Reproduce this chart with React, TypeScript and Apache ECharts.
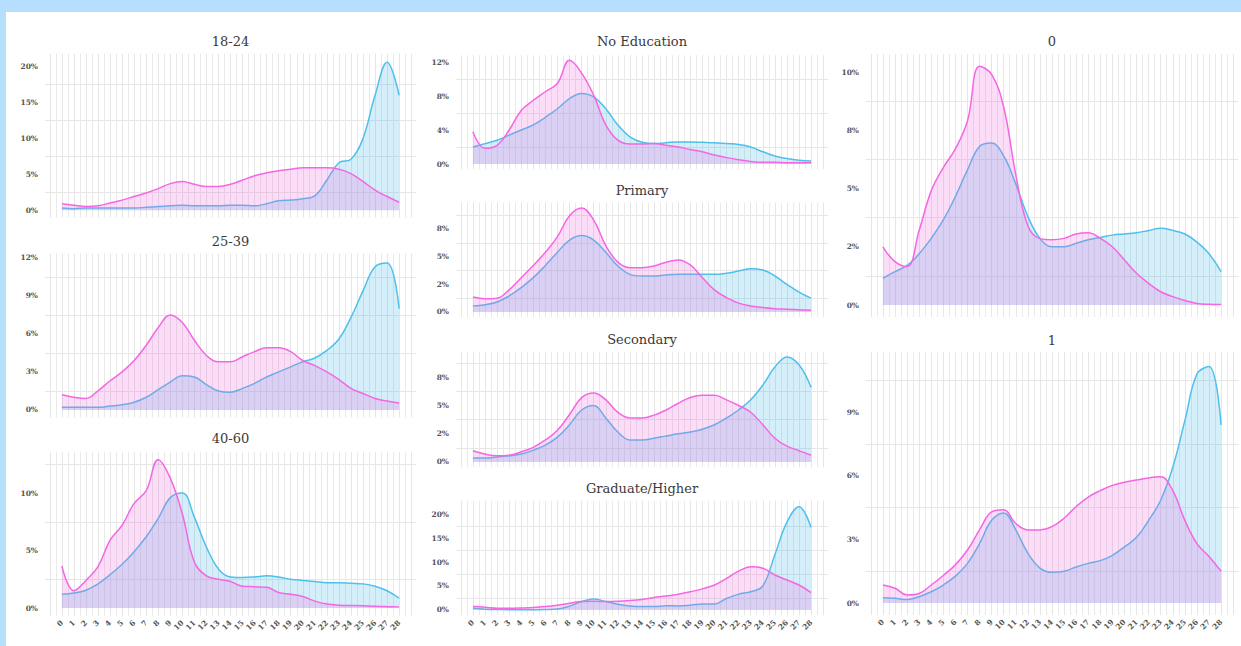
import React, { useEffect, useRef } from 'react';
import * as echarts from 'echarts';

// ---------- data ----------
const xCategories = [0, 1, 2, 3, 4, 5, 6, 7, 8, 9, 10, 11, 12, 13, 14, 15, 16, 17, 18, 19, 20, 21, 22, 23, 24, 25, 26, 27, 28];
const xGridValues = [-1, -0.5, 0, 0.5, 1, 1.5, 2, 2.5, 3, 3.5, 4, 4.5, 5, 5.5, 6, 6.5, 7, 7.5, 8, 8.5, 9, 9.5, 10, 10.5, 11, 11.5, 12, 12.5, 13, 13.5, 14, 14.5, 15, 15.5, 16, 16.5, 17, 17.5, 18, 18.5, 19, 19.5, 20, 20.5, 21, 21.5, 22, 22.5, 23, 23.5, 24, 24.5, 25, 25.5, 26, 26.5, 27, 27.5, 28, 28.5, 29];

const panelTitles = ['18-24', '25-39', '40-60', 'No Education', 'Primary', 'Secondary', 'Graduate/Higher', '0', '1'];

const pink18_24 = [0.9, 0.7, 0.5, 0.6, 1.0, 1.4, 1.9, 2.4, 3.0, 3.7, 4.0, 3.6, 3.3, 3.3, 3.6, 4.2, 4.8, 5.2, 5.5, 5.7, 5.9, 5.9, 5.9, 5.7, 5.1, 4.0, 2.8, 1.9, 1.1];
const blue18_24 = [0.3, 0.2, 0.3, 0.3, 0.3, 0.3, 0.3, 0.4, 0.5, 0.6, 0.7, 0.6, 0.6, 0.6, 0.7, 0.7, 0.6, 0.9, 1.3, 1.4, 1.6, 2.0, 4.2, 6.6, 7.1, 10.0, 16.0, 20.6, 16.0];
const pink25_39 = [1.2, 1.0, 0.9, 1.5, 2.3, 3.0, 3.9, 5.1, 6.5, 7.5, 6.9, 5.5, 4.3, 3.8, 3.8, 4.2, 4.6, 4.9, 4.9, 4.6, 3.9, 3.5, 3.0, 2.4, 1.7, 1.3, 0.9, 0.7, 0.55];
const blue25_39 = [0.2, 0.2, 0.2, 0.2, 0.3, 0.4, 0.6, 1.0, 1.6, 2.2, 2.7, 2.6, 2.0, 1.5, 1.4, 1.7, 2.1, 2.6, 3.0, 3.4, 3.8, 4.1, 4.7, 5.6, 7.3, 9.4, 11.3, 11.6, 8.0];
const pink40_60 = [3.65, 1.5, 2.4, 3.6, 5.9, 7.2, 9.1, 10.2, 12.9, 11.3, 8.2, 4.0, 2.8, 2.5, 2.3, 1.9, 1.85, 1.8, 1.35, 1.2, 1.0, 0.6, 0.35, 0.25, 0.22, 0.2, 0.15, 0.12, 0.1];
const blue40_60 = [1.2, 1.3, 1.55, 2.1, 2.9, 3.8, 4.9, 6.2, 7.8, 9.6, 10.0, 7.9, 5.3, 3.4, 2.7, 2.65, 2.7, 2.8, 2.7, 2.5, 2.4, 2.3, 2.2, 2.2, 2.15, 2.1, 1.9, 1.5, 0.85];
const pinkNoEdu = [3.8, 1.85, 2.2, 4.0, 6.3, 7.5, 8.5, 9.5, 12.2, 10.7, 8.1, 4.6, 2.8, 2.35, 2.35, 2.4, 2.2, 2.0, 1.7, 1.45, 1.05, 0.75, 0.5, 0.3, 0.2, 0.2, 0.15, 0.15, 0.15];
const blueNoEdu = [2.0, 2.4, 2.8, 3.4, 4.0, 4.6, 5.5, 6.5, 7.7, 8.3, 7.9, 6.5, 4.6, 3.2, 2.55, 2.4, 2.5, 2.6, 2.6, 2.55, 2.5, 2.4, 2.3, 2.0, 1.45, 0.95, 0.65, 0.45, 0.35];
const pinkPrimary = [1.35, 1.2, 1.25, 2.0, 3.1, 4.2, 5.4, 6.8, 8.7, 9.4, 8.3, 6.0, 4.5, 4.0, 4.0, 4.15, 4.5, 4.7, 4.25, 3.1, 2.0, 1.3, 0.8, 0.55, 0.4, 0.3, 0.25, 0.2, 0.15];
const bluePrimary = [0.55, 0.65, 0.9, 1.45, 2.2, 3.1, 4.2, 5.4, 6.5, 6.9, 6.5, 5.4, 4.15, 3.4, 3.25, 3.25, 3.35, 3.4, 3.4, 3.4, 3.4, 3.5, 3.7, 3.9, 3.8, 3.25, 2.5, 1.8, 1.25];
const pinkSecondary = [1.0, 0.7, 0.55, 0.6, 0.9, 1.3, 1.95, 2.8, 4.2, 5.7, 6.1, 5.5, 4.4, 3.9, 3.9, 4.15, 4.6, 5.2, 5.7, 5.9, 5.9, 5.5, 5.0, 4.4, 3.3, 2.1, 1.4, 1.0, 0.6];
const blueSecondary = [0.35, 0.35, 0.45, 0.55, 0.7, 1.05, 1.5, 2.2, 3.3, 4.6, 5.0, 3.9, 2.65, 1.95, 1.95, 2.1, 2.3, 2.5, 2.65, 2.9, 3.3, 3.9, 4.6, 5.5, 6.8, 8.4, 9.3, 8.6, 6.6];
const pinkGraduate = [0.7, 0.55, 0.35, 0.35, 0.4, 0.5, 0.7, 1.0, 1.4, 1.75, 1.8, 1.75, 1.8, 1.95, 2.2, 2.6, 2.9, 3.3, 3.8, 4.4, 5.2, 6.6, 8.1, 9.0, 8.7, 7.3, 6.25, 5.2, 3.6];
const blueGraduate = [0.35, 0.15, 0.1, 0.05, 0.05, 0.05, 0.1, 0.2, 0.8, 1.75, 2.3, 1.75, 1.2, 0.85, 0.7, 0.7, 0.9, 0.85, 1.0, 1.25, 1.25, 2.4, 3.3, 3.8, 5.0, 11.5, 18.3, 21.5, 17.2];
const pinkZero = [2.5, 1.86, 1.65, 3.2, 4.9, 5.9, 6.7, 7.9, 10.25, 9.9, 8.5, 5.6, 3.4, 2.85, 2.8, 2.86, 3.05, 3.1, 2.86, 2.5, 1.93, 1.36, 0.93, 0.57, 0.36, 0.19, 0.07, 0.03, 0.02];
const blueZero = [1.15, 1.43, 1.7, 2.2, 2.86, 3.65, 4.65, 5.8, 6.8, 6.95, 6.4, 5.2, 3.8, 2.86, 2.5, 2.5, 2.65, 2.8, 2.9, 3.0, 3.05, 3.1, 3.2, 3.3, 3.2, 3.05, 2.7, 2.2, 1.43];
const pinkOne = [0.85, 0.7, 0.38, 0.45, 0.85, 1.3, 1.8, 2.5, 3.45, 4.3, 4.4, 3.75, 3.45, 3.45, 3.6, 4.0, 4.55, 5.0, 5.3, 5.55, 5.7, 5.8, 5.9, 5.95, 5.3, 3.9, 2.8, 2.2, 1.5];
const blueOne = [0.25, 0.22, 0.17, 0.3, 0.53, 0.85, 1.27, 1.87, 2.8, 3.9, 4.25, 3.45, 2.35, 1.65, 1.45, 1.5, 1.7, 1.87, 2.0, 2.25, 2.65, 3.1, 3.9, 4.85, 6.4, 8.6, 10.8, 11.15, 8.4];

const pinkSeries = [pink18_24, pink25_39, pink40_60, pinkNoEdu, pinkPrimary, pinkSecondary, pinkGraduate, pinkZero, pinkOne];
const blueSeries = [blue18_24, blue25_39, blue40_60, blueNoEdu, bluePrimary, blueSecondary, blueGraduate, blueZero, blueOne];

// y tick labels (percent) and y grid lines per panel
const yLabels18_24 = [0, 5, 10, 15, 20];
const yLabels25_39 = [0, 3, 6, 9, 12];
const yLabels40_60 = [0, 5, 10];
const yLabelsNoEdu = [0, 4, 8, 12];
const yLabelsPrimary = [0, 2.5, 5, 7.5];
const yLabelsSecondary = [0, 2.5, 5, 7.5];
const yLabelsGraduate = [0, 5, 10, 15, 20];
const yLabelsZero = [0, 2.5, 5, 7.5, 10];
const yLabelsOne = [0, 3, 6, 9];
const yLabelSets = [yLabels18_24, yLabels25_39, yLabels40_60, yLabelsNoEdu, yLabelsPrimary, yLabelsSecondary, yLabelsGraduate, yLabelsZero, yLabelsOne];

const yGrid18_24 = [2.5, 7.5, 12.5, 17.5];
const yGrid25_39 = [1.5, 4.5, 7.5, 10.5];
const yGrid40_60 = [2.5, 7.5, 12.5];
const yGridNoEdu = [2, 6, 10];
const yGridPrimary = [1.25, 3.75, 6.25, 8.75];
const yGridSecondary = [1.25, 3.75, 6.25, 8.75];
const yGridGraduate = [2.5, 7.5, 12.5, 17.5];
const yGridZero = [1.25, 3.75, 6.25, 8.75];
const yGridOne = [1.5, 4.5, 7.5, 10.5];
const yGridSets = [yGrid18_24, yGrid25_39, yGrid40_60, yGridNoEdu, yGridPrimary, yGridSecondary, yGridGraduate, yGridZero, yGridOne];

// ---------- layout / style ----------
const layout = [
  { left: 45, top: 53.7, width: 371, height: 164, yMin: -1.05, yMax: 21.8, bottom: false },
  { left: 45, top: 253.5, width: 371, height: 164, yMin: -0.6, yMax: 12.35, bottom: false },
  { left: 45, top: 452.2, width: 371, height: 163.3, yMin: -0.65, yMax: 13.55, bottom: true },
  { left: 456, top: 55.2, width: 372, height: 114, yMin: -0.61, yMax: 12.8, bottom: false },
  { left: 456, top: 202.7, width: 372, height: 114.5, yMin: -0.47, yMax: 9.87, bottom: false },
  { left: 456, top: 351.6, width: 372, height: 115.7, yMin: -0.47, yMax: 9.77, bottom: false },
  { left: 456, top: 500.6, width: 372, height: 114.6, yMin: -1.09, yMax: 22.8, bottom: true },
  { left: 866, top: 54.1, width: 372, height: 262.8, yMin: -0.51, yMax: 10.77, bottom: false },
  { left: 866, top: 352.2, width: 372, height: 262.7, yMin: -0.56, yMax: 11.83, bottom: true },
];
const titleY = [41, 241, 438, 41, 190, 339, 488, 41, 340];

const PINK = '#f566e2';
const BLUE = '#4fbfec';
const PINK_FILL = 'rgba(243, 95, 215, 0.3)';
const BLUE_FILL = 'rgba(50, 180, 232, 0.3)';
const TITLE_FONT = '"DejaVu Serif", "Liberation Serif", serif';
const TICK_FONT = '"DejaVu Serif", "Liberation Serif", serif';

function roundHalfEven(v: number): number {
  const f = Math.floor(v);
  const d = v - f;
  if (Math.abs(d - 0.5) < 1e-9) return f % 2 === 0 ? f : f + 1;
  return Math.round(v);
}

export default function App() {
  const ref = useRef<HTMLDivElement>(null);

  useEffect(() => {
    if (!ref.current) return;
    const chart = echarts.init(ref.current, undefined, { renderer: 'svg' });

    const grid = layout.map((l) => ({ left: l.left, top: l.top, width: l.width, height: l.height }));

    const xAxis = layout.map((l, i) => ({
      gridIndex: i,
      type: 'value',
      min: -1.4,
      max: 29.4,
      axisLine: { show: false },
      axisTick: { show: false, customValues: xGridValues },
      splitLine: { show: true, lineStyle: { color: ['#e6e6e6', '#eaeaea'], width: 1 } },
      axisLabel: {
        show: l.bottom,
        customValues: xCategories,
        rotate: 45,
        interval: 0,
        hideOverlap: false,
        fontSize: 7.5,
        fontWeight: 'bold',
        color: '#555',
        fontFamily: TICK_FONT,
        margin: 6,
        formatter: (v: number) => String(v),
      },
    }));

    const yAxis = layout.map((l, i) => ({
      gridIndex: i,
      type: 'value',
      min: l.yMin,
      max: l.yMax,
      axisLine: { show: false },
      axisTick: { show: false, customValues: yGridSets[i] },
      splitLine: { show: true, lineStyle: { color: '#e6e6e6', width: 1 } },
      axisLabel: {
        customValues: yLabelSets[i],
        fontSize: 7.5,
        fontWeight: 'bold',
        color: '#555',
        fontFamily: TICK_FONT,
        margin: 7,
        formatter: (v: number) => roundHalfEven(v) + '%',
      },
    }));

    const series: any[] = [];
    layout.forEach((l, i) => {
      series.push({
        type: 'line',
        xAxisIndex: i,
        yAxisIndex: i,
        data: xCategories.map((x, k) => [x, blueSeries[i][k]]),
        smooth: 0.4,
        symbol: 'none',
        lineStyle: { color: BLUE, width: 1.5 },
        areaStyle: { color: BLUE_FILL },
        z: 2,
      });
      series.push({
        type: 'line',
        xAxisIndex: i,
        yAxisIndex: i,
        data: xCategories.map((x, k) => [x, pinkSeries[i][k]]),
        smooth: 0.4,
        symbol: 'none',
        lineStyle: { color: PINK, width: 1.5 },
        areaStyle: { color: PINK_FILL },
        z: 3,
      });
    });

    const graphic = layout.map((l, i) => ({
      type: 'text',
      x: l.left + l.width / 2,
      y: titleY[i],
      style: {
        text: panelTitles[i],
        align: 'center',
        verticalAlign: 'middle',
        fontSize: 13,
        fontFamily: TITLE_FONT,
        fill: '#3a3a3a',
      },
    }));

    chart.setOption({
      animation: false,
      backgroundColor: 'transparent',
      grid,
      xAxis,
      yAxis,
      series,
      graphic,
    });

    return () => chart.dispose();
  }, []);

  return (
    <div style={{ position: 'absolute', left: 0, top: 0, width: 1241, height: 646, background: '#b6defd', overflow: 'hidden' }}>
      <div style={{ position: 'absolute', left: 6, top: 12, width: 1235, height: 634, background: '#ffffff' }} />
      <div ref={ref} style={{ position: 'absolute', left: 0, top: 0, width: 1241, height: 646 }} />
    </div>
  );
}
